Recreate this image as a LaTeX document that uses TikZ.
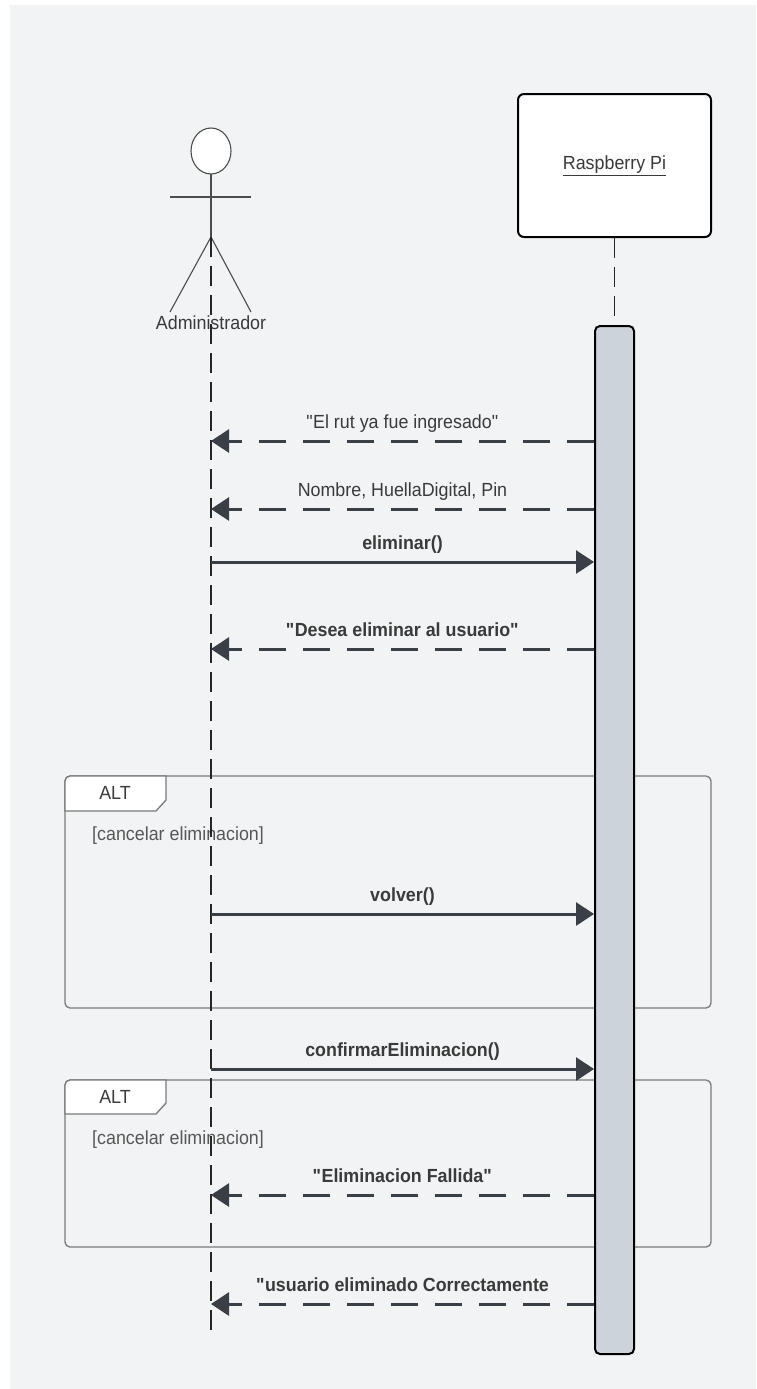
\documentclass[tikz,border=0pt]{standalone}
\usepackage{fontspec}
\setmainfont{Liberation Sans}[FakeStretch=0.94]
\usepackage{tikz}
\usetikzlibrary{arrows.meta}
\definecolor{fondo}{HTML}{F2F3F5}
\definecolor{barra}{HTML}{CDD3DB}
\definecolor{flecha}{HTML}{3A3F47}
\definecolor{texto}{HTML}{3A3A3A}
\definecolor{marco}{HTML}{7A7A7A}

\begin{document}
\begin{tikzpicture}[x=1pt,y=-1pt,
          msg/.style={line width=3pt,draw=flecha,-{Triangle[length=18pt,width=23pt]}},
          resp/.style={msg,dash pattern=on 27pt off 17pt},
          etiq/.style={font=\fontsize{19}{21}\selectfont,text=texto,inner sep=0pt,midway,anchor=base,yshift=13pt},
          negrita/.style={etiq,font=\fontsize{19}{21}\selectfont\bfseries},
          vida/.style={draw=black!85,line width=1.1pt,dash pattern=on 20pt off 9pt},
          frame/.style={draw=marco,line width=1.3pt,rounded corners=5pt}]
          \useasboundingbox (0,0) rectangle (756,1389);
          \fill[white] (0,0) rectangle (756,1389);
          \fill[fondo] (10,5) rectangle (756,1389);
          \draw[frame] (65,776) rectangle (711,1008);
          \draw[draw=marco,line width=1.3pt,fill=white] (65,811) [rounded corners=5pt] -- (65,776) [sharp corners] -- (166,776) -- (166,800) -- (156,811) -- cycle;
          \node[font=\fontsize{19}{21}\selectfont,text=texto] (alt1) at (115,793) {ALT};
          \node[font=\fontsize{19}{21}\selectfont,text=texto!85,anchor=west,inner sep=0pt] (guarda1) at (92,836) {[cancelar eliminacion]};
          \draw[frame] (65,1080) rectangle (711,1247);
          \draw[draw=marco,line width=1.3pt,fill=white] (65,1114) [rounded corners=5pt] -- (65,1080) [sharp corners] -- (166,1080) -- (166,1103) -- (156,1114) -- cycle;
          \node[font=\fontsize{19}{21}\selectfont,text=texto] (alt2) at (115,1097) {ALT};
          \node[font=\fontsize{19}{21}\selectfont,text=texto!85,anchor=west,inner sep=0pt] (guarda2) at (92,1140) {[cancelar eliminacion]};
          \draw[black!70,line width=1.1pt,fill=white] (211,151) ellipse [x radius=20,y radius=23];
          \draw[black!70,line width=1.1pt] (211,174) -- (211,237);
          \draw[black!70,line width=1.1pt] (170,197) -- (251,197);
          \draw[black!70,line width=1.1pt] (170,312) -- (211,237) -- (251,312);
          \node[font=\fontsize{19}{21}\selectfont,text=texto] (admin) at (211,323) {Administrador};
          \coordinate (cadera) at (211,237);
          \coordinate (finadmin) at (211,1337);
          \draw[vida] (cadera) -- (finadmin);
          \node[draw=black,line width=2pt,fill=white,rounded corners=6pt,minimum width=193pt,minimum height=143pt,font=\fontsize{19}{21}\selectfont,text=texto] (rpi) at (614.5,165.5) {\underline{Raspberry Pi}};
          \node[draw=black,line width=2pt,fill=barra,rounded corners=5pt,minimum width=39pt,minimum height=1028pt,inner sep=0pt] (act) at (614.5,840) {};
          \draw[vida] (rpi.south) -- (act.north);
          \coordinate (m1) at (211,441);
          \coordinate (m2) at (211,509);
          \coordinate (m3) at (211,562);
          \coordinate (m4) at (211,649);
          \coordinate (m5) at (211,914);
          \coordinate (m6) at (211,1069);
          \coordinate (m7) at (211,1195);
          \coordinate (m8) at (211,1304);
          \draw[resp] (act.west |- m1) -- node[etiq] {\textquotedbl El rut ya fue ingresado\textquotedbl} (m1);
          \draw[resp] (act.west |- m2) -- node[etiq] {Nombre, HuellaDigital, Pin} (m2);
          \draw[msg] (m3) -- node[negrita] {eliminar()} (act.west |- m3);
          \draw[resp] (act.west |- m4) -- node[negrita] {\textquotedbl Desea eliminar al usuario\textquotedbl} (m4);
          \draw[msg] (m5) -- node[negrita] {volver()} (act.west |- m5);
          \draw[msg] (m6) -- node[negrita] {confirmarEliminacion()} (act.west |- m6);
          \draw[resp] (act.west |- m7) -- node[negrita] {\textquotedbl Eliminacion Fallida\textquotedbl} (m7);
          \draw[resp] (act.west |- m8) -- node[negrita] {\textquotedbl usuario eliminado Correctamente} (m8);
        \end{tikzpicture}
\end{document}
